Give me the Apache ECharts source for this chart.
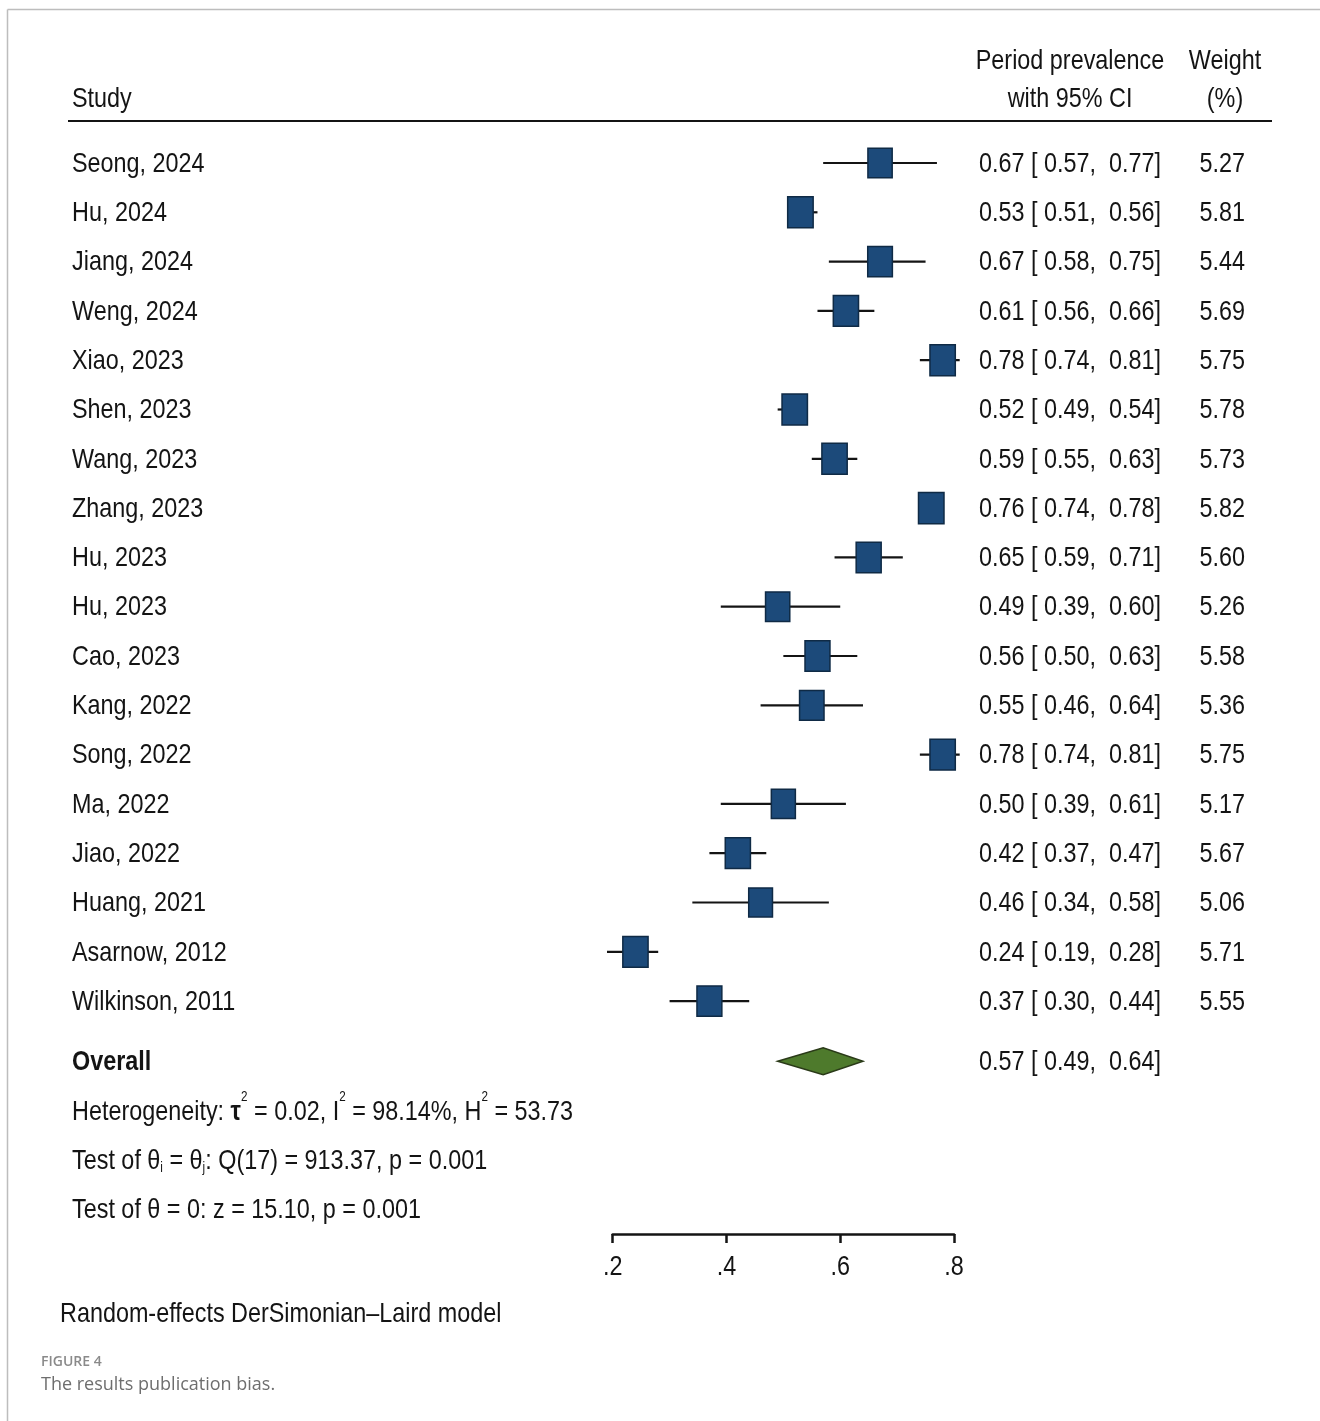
<!DOCTYPE html>
<html>
<head>
<meta charset="utf-8">
<script src="https://cdn.jsdelivr.net/npm/echarts@6/dist/echarts.min.js"></script>
<style>
  html, body { margin: 0; padding: 0; background: #ffffff; }
  #chart { width: 1320px; height: 1421px; }
</style>
</head>
<body>
<div id="chart"></div>
<script>
// Forest plot: period prevalence with 95% CI, random-effects model
const studies = [
  'Seong, 2024', 'Hu, 2024', 'Jiang, 2024', 'Weng, 2024', 'Xiao, 2023', 'Shen, 2023',
  'Wang, 2023', 'Zhang, 2023', 'Hu, 2023', 'Hu, 2023', 'Cao, 2023', 'Kang, 2022',
  'Song, 2022', 'Ma, 2022', 'Jiao, 2022', 'Huang, 2021', 'Asarnow, 2012', 'Wilkinson, 2011'
];
const estimates = [0.67, 0.53, 0.67, 0.61, 0.78, 0.52, 0.59, 0.76, 0.65, 0.49, 0.56, 0.55, 0.78, 0.50, 0.42, 0.46, 0.24, 0.37];
const lowerCI   = [0.57, 0.51, 0.58, 0.56, 0.74, 0.49, 0.55, 0.74, 0.59, 0.39, 0.50, 0.46, 0.74, 0.39, 0.37, 0.34, 0.19, 0.30];
const upperCI   = [0.77, 0.56, 0.75, 0.66, 0.81, 0.54, 0.63, 0.78, 0.71, 0.60, 0.63, 0.64, 0.81, 0.61, 0.47, 0.58, 0.28, 0.44];
const weights   = [5.27, 5.81, 5.44, 5.69, 5.75, 5.78, 5.73, 5.82, 5.60, 5.26, 5.58, 5.36, 5.75, 5.17, 5.67, 5.06, 5.71, 5.55];

const overallLabel = 'Overall';
const overallEstimate = 0.57;
const overallLower = 0.49;
const overallUpper = 0.64;
const overallRow = 18.22;

const xTicks = [0.2, 0.4, 0.6, 0.8];

// condensed look: Arial-metric face squeezed horizontally
const FONT = '"Liberation Sans", Arial, Helvetica, sans-serif';
const FS = 28;
const SQUEEZE = 0.835;
const INK = '#141414';

// layout
const firstRowY = 163;
const rowStep = 49.3;
const axisY = 1234;
const gridTop = firstRowY - rowStep;
const yMax = (axisY - gridTop) / rowStep - 1;
const xLeft = 612.7, xRight = 954;
const textNudge = 1;

const fmt = v => v.toFixed(2);

const studyData = estimates.map((e, i) => [e, lowerCI[i], upperCI[i], i, weights[i]]);
const overallData = [[overallEstimate, overallLower, overallUpper, overallRow]];
const tickData = xTicks.map(t => [t]);

function textEl(text, x, y, align, weight, rich, lineHeight) {
  const style = {
    text: text, x: 0, y: 0,
    font: (weight ? weight + ' ' : '') + FS + 'px ' + FONT,
    fill: INK,
    align: align, textAlign: align,
    verticalAlign: 'middle', textVerticalAlign: 'middle'
  };
  if (rich) style.rich = rich;
  if (lineHeight) style.lineHeight = lineHeight;
  return { type: 'text', x: x, y: y + textNudge, scaleX: SQUEEZE, scaleY: 1, style: style };
}

const supStyle = { fontFamily: FONT, fontSize: 14, fill: INK, color: INK, verticalAlign: 'top', lineHeight: 14 };
const subStyle = { fontFamily: FONT, fontSize: 14, fill: INK, color: INK, verticalAlign: 'bottom', lineHeight: 14 };
const tauStyle = { fontFamily: FONT, fontSize: FS, fontWeight: 'bold', fill: INK, color: INK, lineHeight: 44 };

const chart = echarts.init(document.getElementById('chart'), null, { renderer: 'canvas' });

chart.setOption({
  backgroundColor: '#ffffff',
  animation: false,
  grid: {
    left: xLeft,
    width: xRight - xLeft,
    top: gridTop,
    height: axisY - gridTop
  },
  xAxis: {
    type: 'value',
    position: 'bottom',
    min: 0.2,
    max: 0.8,
    interval: 0.2,
    splitLine: { show: false },
    axisLine: { show: true, onZero: false, lineStyle: { color: INK, width: 2.5 } },
    axisTick: { show: true, length: 9, lineStyle: { color: INK, width: 2.5 } },
    axisLabel: { show: false }
  },
  yAxis: {
    type: 'value',
    inverse: true,
    min: -1,
    max: yMax,
    show: false,
    splitLine: { show: false }
  },
  series: [
    {
      // CI whiskers and weighted squares
      type: 'custom',
      clip: false,
      data: studyData,
      encode: { x: [0, 1, 2], y: 3 },
      renderItem: function (params, api) {
        const est = api.value(0), lo = api.value(1), hi = api.value(2), row = api.value(3), w = api.value(4);
        const c = api.coord([est, row]);
        const pLo = api.coord([lo, row]);
        const pHi = api.coord([hi, row]);
        const s = Math.sqrt(w / 5.6);
        const bw = 25 * s, bh = 30.5 * s;
        return {
          type: 'group',
          children: [
            {
              type: 'line',
              shape: { x1: pLo[0], y1: c[1], x2: pHi[0], y2: c[1] },
              style: { stroke: INK, lineWidth: 2.2 }
            },
            {
              type: 'rect',
              shape: { x: c[0] - bw / 2, y: c[1] - bh / 2, width: bw, height: bh },
              style: { fill: '#1c4a7a', stroke: '#0f2a45', lineWidth: 1.5 }
            }
          ]
        };
      }
    },
    {
      // study names, estimate text and weight columns
      type: 'custom',
      clip: false,
      data: studyData,
      encode: { x: 0, y: 3 },
      renderItem: function (params, api) {
        const i = params.dataIndex;
        const y = api.coord([estimates[i], api.value(3)])[1];
        return {
          type: 'group',
          children: [
            textEl(studies[i], 72, y, 'left'),
            textEl(fmt(estimates[i]) + ' [ ' + fmt(lowerCI[i]) + ',  ' + fmt(upperCI[i]) + ']', 979, y, 'left'),
            textEl(fmt(weights[i]), 1245, y, 'right')
          ]
        };
      }
    },
    {
      // pooled estimate diamond
      type: 'custom',
      clip: false,
      data: overallData,
      encode: { x: [0, 1, 2], y: 3 },
      renderItem: function (params, api) {
        const est = api.value(0), lo = api.value(1), hi = api.value(2), row = api.value(3);
        const c = api.coord([est, row]);
        const pLo = api.coord([lo, row]);
        const pHi = api.coord([hi, row]);
        const hh = 13.5;
        return {
          type: 'group',
          children: [
            {
              type: 'polygon',
              shape: { points: [[pLo[0], c[1]], [c[0], c[1] - hh], [pHi[0], c[1]], [c[0], c[1] + hh]] },
              style: { fill: '#4e7a2c', stroke: '#2a3a18', lineWidth: 1.5 }
            },
            textEl(overallLabel, 72, c[1], 'left', 'bold'),
            textEl(fmt(est) + ' [ ' + fmt(lo) + ',  ' + fmt(hi) + ']', 979, c[1], 'left')
          ]
        };
      }
    },
    {
      // x-axis tick labels (.2, .4, ...)
      type: 'custom',
      clip: false,
      data: tickData,
      encode: { x: 0 },
      renderItem: function (params, api) {
        const p = api.coord([api.value(0), yMax]);
        return textEl(api.value(0).toFixed(1).replace(/^0/, ''), p[0], p[1] + 32, 'center');
      }
    }
  ],
  graphic: [
    // frame
    { type: 'line', shape: { x1: 7.5, y1: 9.5, x2: 1320, y2: 9.5 }, style: { stroke: '#bdbdbd', lineWidth: 1.5 } },
    { type: 'line', shape: { x1: 7.5, y1: 9.5, x2: 7.5, y2: 1421 }, style: { stroke: '#bdbdbd', lineWidth: 1.5 } },
    // header
    textEl('Study', 72, 98, 'left'),
    textEl('Period prevalence', 1070, 60, 'center'),
    textEl('with 95% CI', 1070, 98, 'center'),
    textEl('Weight', 1225, 60, 'center'),
    textEl('(%)', 1225, 98, 'center'),
    { type: 'line', shape: { x1: 68, y1: 121, x2: 1272, y2: 121 }, style: { stroke: INK, lineWidth: 2.2 } },
    // heterogeneity statistics
    textEl('Heterogeneity: {tau|τ}{sup|2} = 0.02, I{sup|2} = 98.14%, H{sup|2} = 53.73', 72, 1111, 'left', null,
      { tau: tauStyle, sup: supStyle }, 44),
    textEl('Test of θ{sub|i} = θ{sub|j}: Q(17) = 913.37, p = 0.001', 72, 1160, 'left', null,
      { sub: subStyle }),
    textEl('Test of θ = 0: z = 15.10, p = 0.001', 72, 1209, 'left'),
    // model note and caption
    textEl('Random-effects DerSimonian–Laird model', 60, 1313, 'left'),
    { type: 'text', x: 41, y: 1362, style: { text: 'FIGURE 4', font: '600 14px "Open Sans", sans-serif', fill: '#8a8a8a', textVerticalAlign: 'middle', verticalAlign: 'middle' } },
    { type: 'text', x: 41, y: 1385, style: { text: 'The results publication bias.', font: '18px "Open Sans", sans-serif', fill: '#6e6e6e', textVerticalAlign: 'middle', verticalAlign: 'middle' } }
  ]
});
</script>
</body>
</html>
